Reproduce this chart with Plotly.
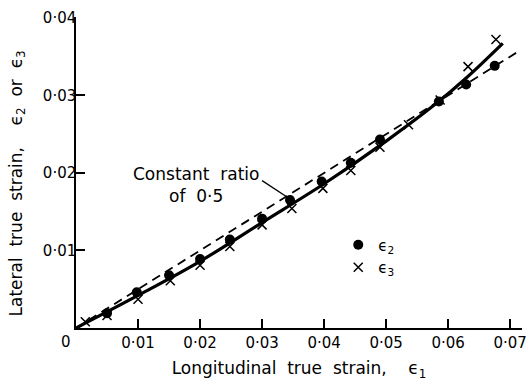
import plotly.graph_objects as go

# ---- data ----
e2_x = [0.0050, 0.0098, 0.0150, 0.0200, 0.0248, 0.0300, 0.0345, 0.0396, 0.0443, 0.0490, 0.0585, 0.0629, 0.0675]
e2_y = [0.0019, 0.0046, 0.0068, 0.0089, 0.0114, 0.0141, 0.0165, 0.0189, 0.0213, 0.0243, 0.0292, 0.0314, 0.0338]

e3_x = [0.0015, 0.0050, 0.0100, 0.0152, 0.0200, 0.0248, 0.0300, 0.0348, 0.0398, 0.0443, 0.0490, 0.0536, 0.0587, 0.0632, 0.0677]
e3_y = [0.0008, 0.0016, 0.0037, 0.0061, 0.0081, 0.0105, 0.0133, 0.0154, 0.0180, 0.0203, 0.0233, 0.0262, 0.0294, 0.0337, 0.0372]

fit_x = [0.0, 0.010, 0.020, 0.030, 0.040, 0.050, 0.058, 0.063, 0.0688]
fit_y = [0.0, 0.0042, 0.0086, 0.0136, 0.0186, 0.0241, 0.0289, 0.0323, 0.0367]

ratio = 0.5
ratio_x = [0.0, 0.0715]
ratio_y = [ratio * v for v in ratio_x]

x_tickvals = [0.01, 0.02, 0.03, 0.04, 0.05, 0.06, 0.07]
x_ticktext = ["0·01", "0·02", "0·03", "0·04", "0·05", "0·06", "0·07"]
y_tickvals = [0.01, 0.02, 0.03, 0.04]
y_ticktext = ["0·01", "0·02", "0·03", "0·04"]

FONT = "DejaVu Sans"

fig = go.Figure()
fig.add_trace(go.Scatter(x=ratio_x, y=ratio_y, mode="lines",
                         line=dict(color="black", width=1.8, dash="9px,6px"),
                         showlegend=False, hoverinfo="skip"))
fig.add_trace(go.Scatter(x=fit_x, y=fit_y, mode="lines", line_shape="spline",
                         line=dict(color="black", width=3.2),
                         showlegend=False, hoverinfo="skip"))
fig.add_trace(go.Scatter(x=e2_x, y=e2_y, mode="markers", name="ϵ<sub>2</sub>",
                         marker=dict(symbol="circle", size=10, color="black")))
fig.add_trace(go.Scatter(x=e3_x, y=e3_y, mode="markers", name="ϵ<sub>3</sub>",
                         marker=dict(symbol="x-thin", size=9, color="black",
                                     line=dict(color="black", width=1.5))))

# leader line from the label to the constant-ratio line
fig.add_shape(type="line", x0=0.0300, y0=0.0190, x1=0.0342, y1=0.0168,
              line=dict(color="black", width=1.3))
fig.add_annotation(x=0.0193, y=0.0185, xref="x", yref="y", showarrow=False,
                   text="Constant  ratio<br>of  0·5", align="center",
                   font=dict(family=FONT, size=17, color="black"))
fig.add_annotation(x=0, y=0, xref="paper", yref="paper", xshift=-10, yshift=-14,
                   xanchor="center", yanchor="middle",
                   showarrow=False, text="0",
                   font=dict(family=FONT, size=15, color="black"))
# y-axis title
fig.add_annotation(x=0, y=0.5, xref="paper", yref="paper", xshift=-59, yshift=-11,
                   xanchor="center", yanchor="middle", textangle=-90,
                   showarrow=False,
                   text="Lateral  true  strain,    ϵ<sub>2</sub>  or  ϵ<sub>3</sub>",
                   font=dict(family=FONT, size=17, color="black"))

fig.update_xaxes(range=[0, 0.0719], tickvals=x_tickvals, ticktext=x_ticktext,
                 ticks="inside", ticklen=9, tickwidth=1.5, tickcolor="black",
                 showline=True, linecolor="black", linewidth=1.5,
                 showgrid=False, zeroline=False, ticklabeloverflow="allow",
                 tickfont=dict(family=FONT, size=15, color="black"),
                 title=dict(text="Longitudinal  true  strain,    ϵ<sub>1</sub>",
                            font=dict(family=FONT, size=17, color="black"), standoff=21))
fig.update_yaxes(range=[0, 0.0401], tickvals=y_tickvals, ticktext=y_ticktext,
                 ticks="inside", ticklen=9, tickwidth=1.5, tickcolor="black",
                 showline=True, linecolor="black", linewidth=1.5,
                 showgrid=False, zeroline=False, ticklabelstandoff=-5,
                 tickfont=dict(family=FONT, size=15, color="black"))

fig.update_layout(width=528, height=381,
                  margin=dict(l=76, r=6, t=17, b=53, autoexpand=False),
                  plot_bgcolor="white", paper_bgcolor="white",
                  legend=dict(x=0.588, y=0.32, xanchor="left", yanchor="top",
                              bgcolor="rgba(0,0,0,0)", tracegroupgap=0,
                              font=dict(family=FONT, size=15, color="black")))

fig.write_html("out.html", config={"displayModeBar": False},
               post_script="document.body.style.margin='0';document.body.style.overflow='hidden';")
